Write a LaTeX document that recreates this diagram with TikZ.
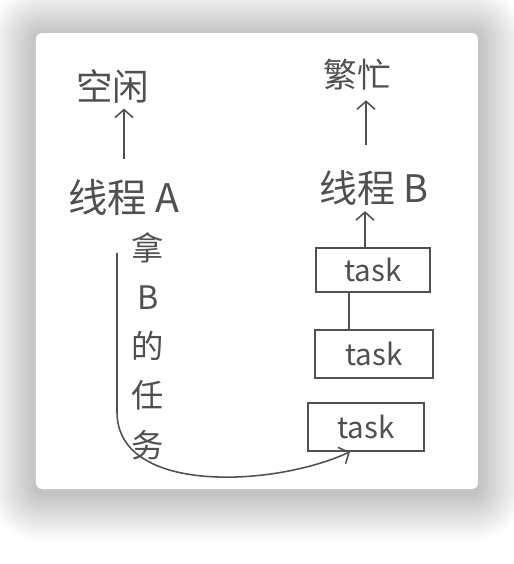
\documentclass[tikz,border=0pt]{standalone}
\usepackage{fontspec}
\usepackage{xcolor}
\usepackage{tikz}
\usetikzlibrary{positioning,arrows.meta,calc}
\newfontfamily\cjk{Noto Sans CJK SC}
\definecolor{pencil}{HTML}{505050}

\begin{document}
\begin{tikzpicture}[
    handtext/.style={
        text=pencil,
        inner sep=1pt,
        font=\cjk\fontsize{26}{30}\selectfont
    },
    taskbox/.style={
        draw=pencil,
        line width=1.1pt,
        minimum width=2.85cm,
        minimum height=1.1cm,
        text=pencil,
        font=\cjk\fontsize{21}{24}\selectfont
    },
    handaux/.style={pencil, line width=1.1pt, -{Straight Barb[length=2mm,width=4.5mm]}},
    plainaux/.style={pencil, line width=1.1pt}
]

\useasboundingbox (0,0) rectangle (12.85,14.1);

% soft shadow round the card
\foreach \s in {1,...,30}
    \fill[black, opacity=0.0065, rounded corners=0.15cm+0.04cm*\s]
        (0.9-0.04*\s,1.875-0.1-0.04*\s) rectangle (11.95+0.04*\s,13.275-0.05+0.04*\s);

% card
\fill[white, rounded corners=0.15cm] (0.9,1.875) rectangle (11.95,13.275);

% thread A side
\node[handtext] (idleA) at (2.825,11.95) {空闲};
\node[handtext, font=\cjk\fontsize{28}{32}\selectfont] (tA) at (3.1,9.175) {线程 A};

\draw[handaux, shorten <=0.45cm, shorten >=0.1cm] (tA.north) -- (tA.north |- idleA.south);

% thread B side
\node[handtext, font=\cjk\fontsize{24}{28}\selectfont] (busyB) at (8.925,12.225) {繁忙};
\node[handtext, font=\cjk\fontsize{27}{31}\selectfont] (tB) at (9.35,9.4) {线程 B};

\draw[handaux, shorten <=0.6cm, shorten >=0.2cm] ([xshift=-0.2cm]tB.north) -- ([xshift=-0.2cm]tB.north |- busyB.south);

% queue of tasks
\node[taskbox] (t1) at (9.325,7.35) {task};
\node[taskbox, minimum width=2.95cm, minimum height=1.2cm] (t2) at (9.35,5.25) {task};
\node[taskbox, minimum width=2.9cm, minimum height=1.2cm] (t3) at (9.15,3.425) {task};

\draw[handaux, shorten >=0.1cm] ([xshift=-0.2cm]t1.north) -- ([xshift=-0.2cm]t1.north |- tB.south);
\draw[plainaux] ([xshift=-0.6cm]t1.south) -- ([xshift=-0.6cm]t1.south |- t2.north);

% stealing path
\node[handtext, align=center, font=\cjk\fontsize{23}{35}\selectfont] (take) at (3.7,5.45)
{拿\\B\\的\\任\\务};

\draw[handaux] ([xshift=-0.175cm,yshift=-0.9cm]tA.south) -- (2.925,3.8)
    to[out=-90, in=205, looseness=0.9] ([xshift=-0.4cm]t3.south);

\end{tikzpicture}
\end{document}
